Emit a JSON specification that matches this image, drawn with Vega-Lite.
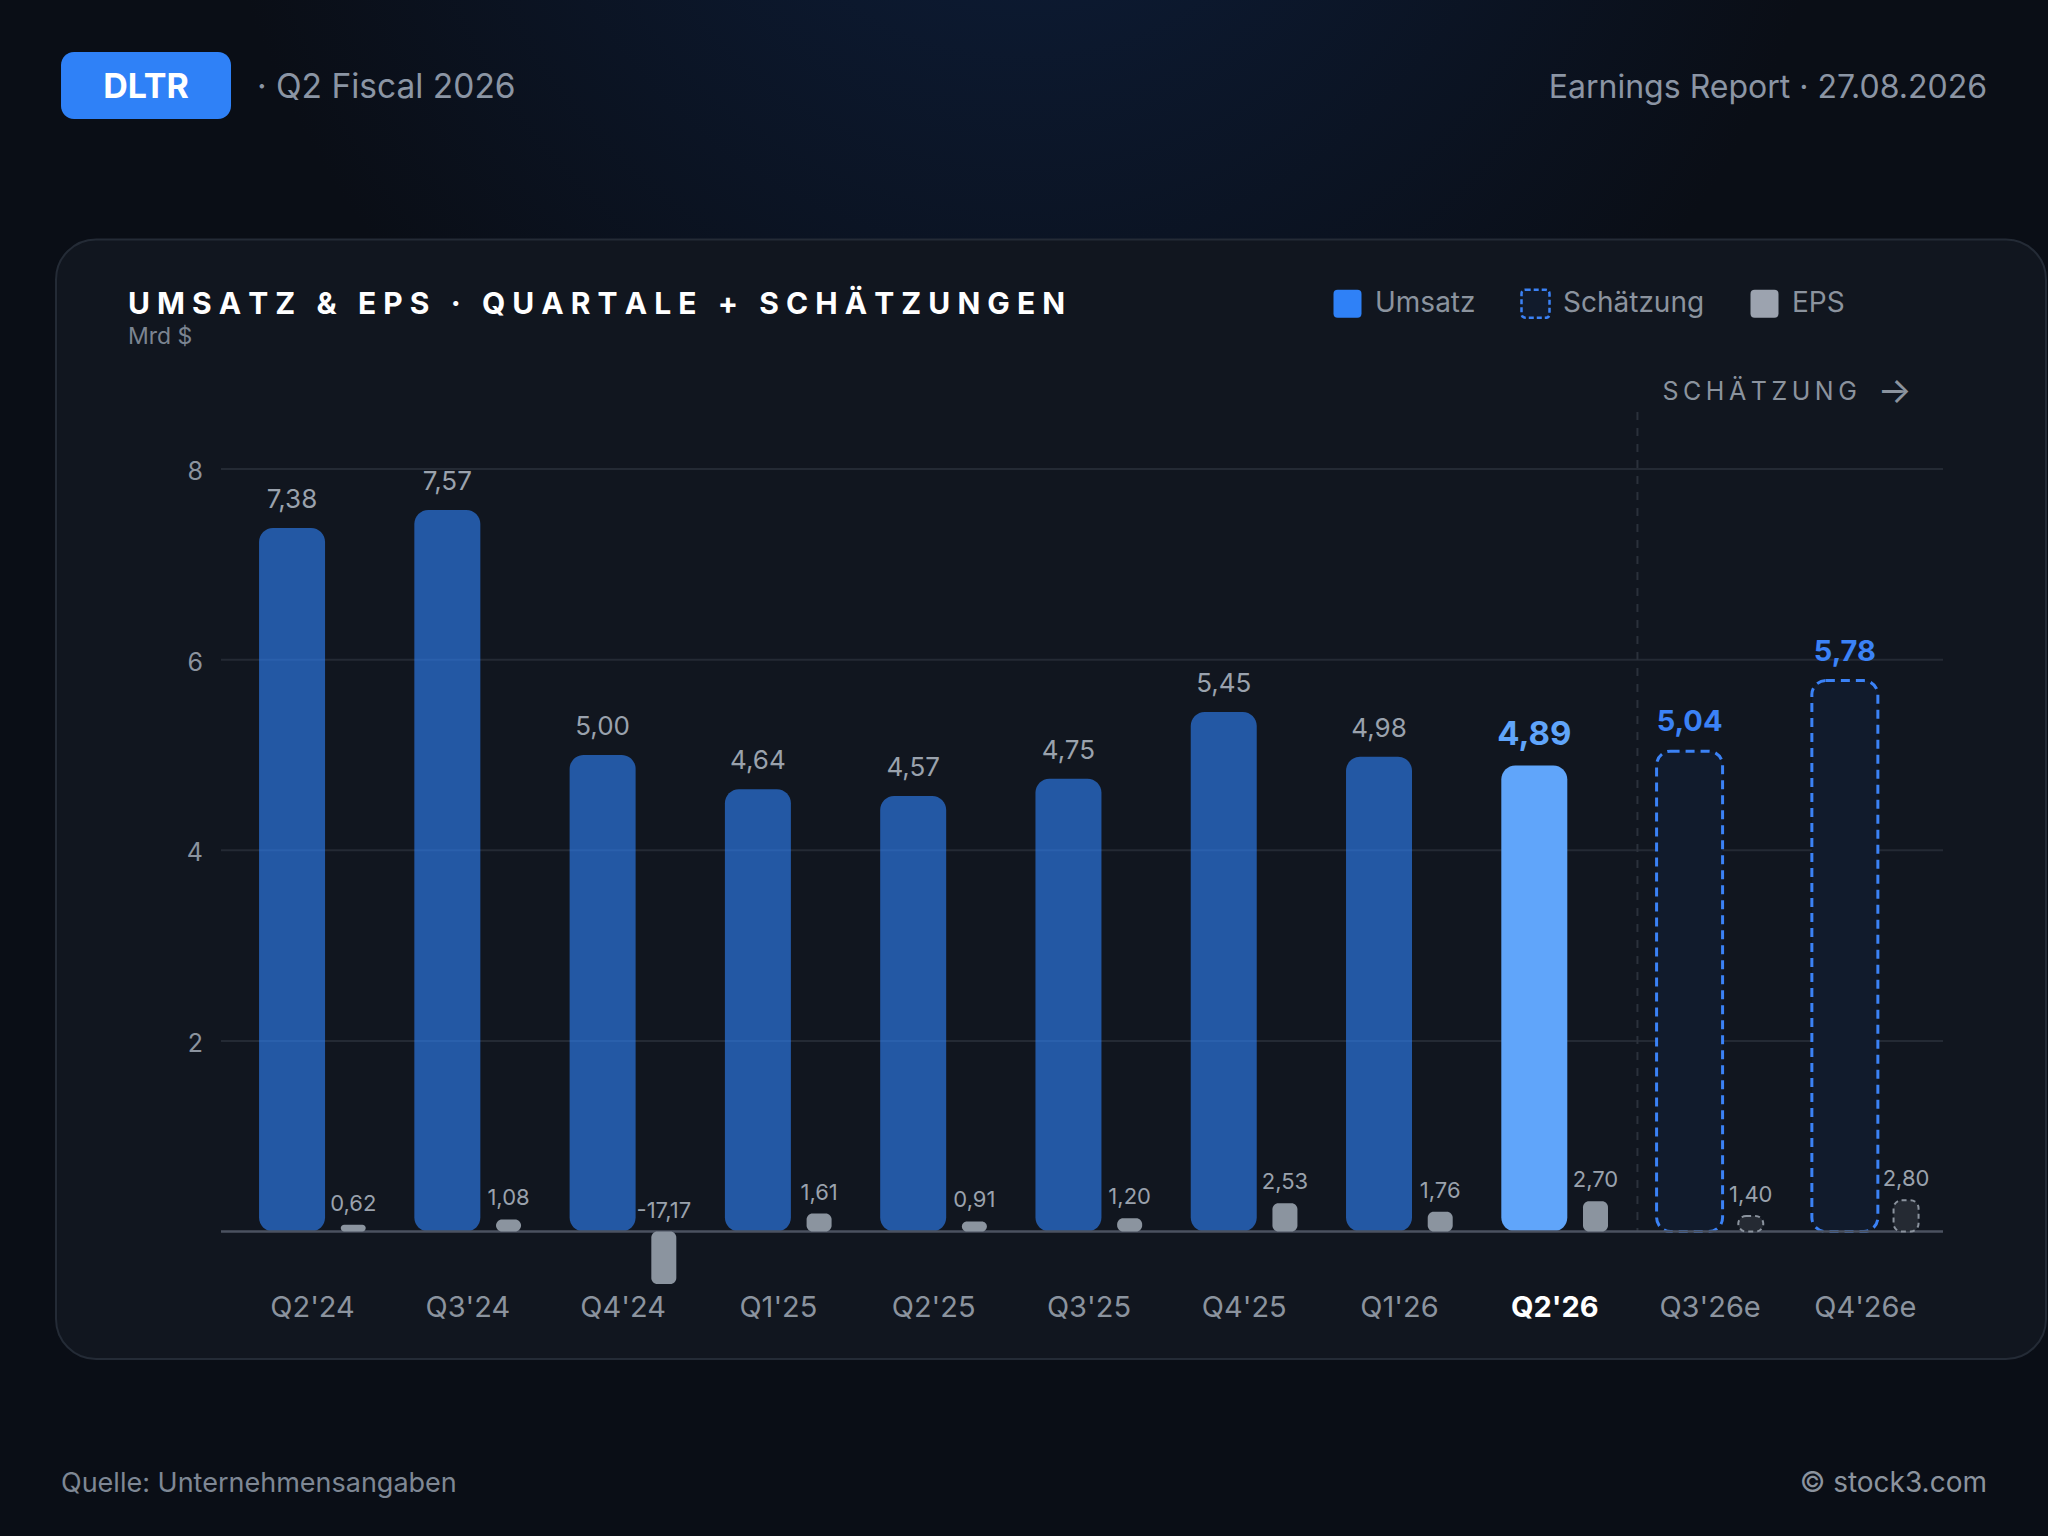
{
  "$schema": "https://vega.github.io/schema/vega-lite/v6.json",
  "width": 1722,
  "height": 815,
  "autosize": {"type": "none"},
  "padding": {"left": 221, "top": 469, "right": 105, "bottom": 252},
  "background": "#0a0e16",
  "config": {
    "font": "Inter",
    "view": {"stroke": null},
    "locale": {
      "number": {"decimal": ",", "thousands": ".", "grouping": [3], "currency": ["", " $"], "minus": "-"}
    }
  },
  "data": {
    "values": [
      {"q": "Q2'24", "rev": 7.38, "eps": 0.62, "typ": "Umsatz"},
      {"q": "Q3'24", "rev": 7.57, "eps": 1.08, "typ": "Umsatz"},
      {"q": "Q4'24", "rev": 5.0, "eps": -17.17, "typ": "Umsatz"},
      {"q": "Q1'25", "rev": 4.64, "eps": 1.61, "typ": "Umsatz"},
      {"q": "Q2'25", "rev": 4.57, "eps": 0.91, "typ": "Umsatz"},
      {"q": "Q3'25", "rev": 4.75, "eps": 1.2, "typ": "Umsatz"},
      {"q": "Q4'25", "rev": 5.45, "eps": 2.53, "typ": "Umsatz"},
      {"q": "Q1'26", "rev": 4.98, "eps": 1.76, "typ": "Umsatz"},
      {"q": "Q2'26", "rev": 4.89, "eps": 2.7, "typ": "Umsatz"},
      {"q": "Q3'26e", "rev": 5.04, "eps": 1.4, "typ": "Schätzung"},
      {"q": "Q4'26e", "rev": 5.78, "eps": 2.8, "typ": "Schätzung"}
    ]
  },
  "resolve": {"scale": {"y": "independent"}},
  "layer": [
    {
      "layer": [
        {
          "data": {"values": [{}]},
          "mark": {
            "type": "rect",
            "xOffset": -234.9,
            "x2Offset": 105,
            "color": {
              "gradient": "radial",
              "x1": 0.5, "y1": 0, "r1": 0,
              "x2": 0.5, "y2": 0, "r2": 0.4,
              "stops": [
                {"offset": 0, "color": "#0d1e3b"},
                {"offset": 1, "color": "#0a0e16"}
              ]
            }
          },
          "encoding": {
            "x": {
              "datum": "Q2'24", "type": "nominal", "bandPosition": 0, "axis": null,
              "scale": {
                "domain": ["Q2'24", "Q3'24", "Q4'24", "Q1'25", "Q2'25", "Q3'25", "Q4'25", "Q1'26", "Q2'26", "Q3'26e", "Q4'26e"],
                "paddingInner": 0, "paddingOuter": 0.0448, "align": 1
              }
            },
            "x2": {"datum": "Q4'26e", "bandPosition": 1},
            "y": {"datum": 12.92, "type": "quantitative", "axis": null,
                  "scale": {"domain": [-0.55, 8], "nice": false, "zero": false}},
            "y2": {"datum": -3.194}
          }
        },
        {
          "data": {"values": [{}]},
          "mark": {
            "type": "rect",
            "xOffset": -178.9,
            "x2Offset": 103,
            "fill": "#11161f",
            "stroke": "#242b36",
            "strokeWidth": 2,
            "cornerRadius": 40
          },
          "encoding": {
            "x": {"datum": "Q2'24", "type": "nominal", "bandPosition": 0, "axis": null},
            "x2": {"datum": "Q4'26e", "bandPosition": 1},
            "y": {"datum": 10.408, "type": "quantitative", "axis": null},
            "y2": {"datum": -1.337}
          }
        },
        {
          "data": {"values": [{"g": 2}, {"g": 4}, {"g": 6}, {"g": 8}]},
          "layer": [
            {
              "mark": {"type": "rule", "color": "#242a34", "strokeWidth": 2},
              "encoding": {
                "y": {"field": "g", "type": "quantitative", "axis": null}
              }
            },
            {
              "mark": {"type": "text", "align": "right", "baseline": "middle", "dx": -31.9, "dy": 3, "fontSize": 25, "color": "#8b939e"},
              "encoding": {
                "x": {"datum": "Q2'24", "type": "nominal", "bandPosition": 0, "axis": null},
                "y": {"field": "g", "type": "quantitative", "axis": null},
                "text": {"field": "g", "type": "quantitative", "format": "d"}
              }
            }
          ]
        },
        {
          "data": {"values": [{}]},
          "mark": {"type": "rule", "color": "#2b313b", "strokeWidth": 2, "strokeDash": [8, 8], "xOffset": 5},
          "encoding": {
            "x": {"datum": "Q3'26e", "type": "nominal", "bandPosition": 0, "axis": null},
            "y": {"datum": 8.598, "type": "quantitative", "axis": null},
            "y2": {"datum": 0}
          }
        },
        {
          "transform": [{"filter": "datum.typ === 'Umsatz'"}],
          "mark": {"type": "bar", "width": 66, "xOffset": -20.5, "cornerRadius": 14},
          "encoding": {
            "x": {"field": "q", "type": "nominal", "axis": null},
            "y": {"field": "rev", "type": "quantitative", "axis": null},
            "y2": {"datum": 0},
            "color": {
              "condition": {"test": "datum.q === \"Q2'26\"", "value": "#60a5fa"},
              "field": "typ", "type": "nominal",
              "scale": {"domain": ["Umsatz", "Schätzung", "EPS"], "range": ["#2f81f7", "#111b2c", "#9ca3af"]},
              "legend": {
                "title": null, "orient": "none", "legendX": 1111, "legendY": -181,
                "direction": "horizontal", "padding": 0, "zindex": 1,
                "symbolType": "M-0.7,-1L0.7,-1Q1,-1,1,-0.7L1,0.7Q1,1,0.7,1L-0.7,1Q-1,1,-1,0.7L-1,-0.7Q-1,-1,-0.7,-1Z",
                "symbolSize": 784, "symbolOpacity": 1, "symbolStrokeWidth": 2.5,
                "labelFontSize": 28, "labelColor": "#8b939e", "labelFont": "Inter",
                "labelOffset": 12, "columnPadding": 40,
                "encode": {
                  "symbols": {
                    "update": {
                      "stroke": {"signal": "datum.value === 'Schätzung' ? '#3b82f6' : 'transparent'"},
                      "strokeDash": {"signal": "datum.value === 'Schätzung' ? [5, 3] : [1, 0]"}
                    }
                  }
                }
              }
            },
            "opacity": {"condition": {"test": "datum.q === \"Q2'26\"", "value": 1}, "value": 0.62}
          }
        },
        {
          "transform": [{"filter": "datum.typ === 'Schätzung'"}],
          "mark": {
            "type": "bar", "width": 66, "xOffset": -20.5, "cornerRadius": 14,
            "fill": "#111b2c", "stroke": "#3b82f6", "strokeWidth": 3, "strokeDash": [9, 6]
          },
          "encoding": {
            "x": {"field": "q", "type": "nominal", "axis": null},
            "y": {"field": "rev", "type": "quantitative", "axis": null},
            "y2": {"datum": 0}
          }
        },
        {
          "data": {"values": [{}]},
          "mark": {"type": "rule", "color": "#4b5260", "strokeWidth": 2.5},
          "encoding": {
            "y": {"datum": 0, "type": "quantitative", "axis": null}
          }
        },
        {
          "transform": [{"filter": "datum.q !== \"Q2'26\""}],
          "mark": {"type": "text", "align": "center", "baseline": "middle", "fontSize": 29, "color": "#8b939e"},
          "encoding": {
            "x": {"field": "q", "type": "nominal", "axis": null},
            "y": {"datum": -0.798, "type": "quantitative", "axis": null},
            "text": {"field": "q", "type": "nominal"}
          }
        },
        {
          "transform": [{"filter": "datum.q === \"Q2'26\""}],
          "mark": {"type": "text", "align": "center", "baseline": "middle", "fontSize": 29, "fontWeight": "bold", "color": "#ffffff"},
          "encoding": {
            "x": {"field": "q", "type": "nominal", "axis": null},
            "y": {"datum": -0.798, "type": "quantitative", "axis": null},
            "text": {"field": "q", "type": "nominal"}
          }
        },
        {
          "transform": [{"filter": "datum.typ === 'Umsatz' && datum.q !== \"Q2'26\""}],
          "mark": {"type": "text", "dx": -20.5, "dy": -20, "baseline": "alphabetic", "fontSize": 26, "color": "#9aa2ad"},
          "encoding": {
            "x": {"field": "q", "type": "nominal", "axis": null},
            "y": {"field": "rev", "type": "quantitative", "axis": null},
            "text": {"field": "rev", "type": "quantitative", "format": ".2f"}
          }
        },
        {
          "transform": [{"filter": "datum.q === \"Q2'26\""}],
          "mark": {"type": "text", "dx": -20.5, "dy": -20, "baseline": "alphabetic", "fontSize": 33, "fontWeight": "bold", "color": "#60a5fa"},
          "encoding": {
            "x": {"field": "q", "type": "nominal", "axis": null},
            "y": {"field": "rev", "type": "quantitative", "axis": null},
            "text": {"field": "rev", "type": "quantitative", "format": ".2f"}
          }
        },
        {
          "transform": [{"filter": "datum.typ === 'Schätzung'"}],
          "mark": {"type": "text", "dx": -20.5, "dy": -20, "baseline": "alphabetic", "fontSize": 29, "fontWeight": "bold", "color": "#3b82f6"},
          "encoding": {
            "x": {"field": "q", "type": "nominal", "axis": null},
            "y": {"field": "rev", "type": "quantitative", "axis": null},
            "text": {"field": "rev", "type": "quantitative", "format": ".2f"}
          }
        },
        {
          "data": {"values": [{}]},
          "mark": {"type": "rect", "xOffset": -173.9, "x2Offset": -3.9, "fill": "#2f81f7", "cornerRadius": 13},
          "encoding": {
            "x": {"datum": "Q2'24", "type": "nominal", "bandPosition": 0, "axis": null},
            "x2": {"datum": "Q2'24", "bandPosition": 0},
            "y": {"datum": 12.375, "type": "quantitative", "axis": null},
            "y2": {"datum": 11.672}
          }
        },
        {
          "data": {"values": [{}]},
          "mark": {"type": "text", "text": "DLTR", "align": "center", "baseline": "middle", "dx": -88.9, "fontSize": 34, "fontWeight": "bold", "color": "#ffffff"},
          "encoding": {
            "x": {"datum": "Q2'24", "type": "nominal", "bandPosition": 0, "axis": null},
            "y": {"datum": 12.0, "type": "quantitative", "axis": null}
          }
        },
        {
          "data": {"values": [{}]},
          "mark": {"type": "text", "text": "· Q2 Fiscal 2026", "align": "left", "baseline": "middle", "dx": 22, "fontSize": 33.5, "color": "#8b95a4"},
          "encoding": {
            "x": {"datum": "Q2'24", "type": "nominal", "bandPosition": 0, "axis": null},
            "y": {"datum": 12.0, "type": "quantitative", "axis": null}
          }
        },
        {
          "data": {"values": [{}]},
          "mark": {"type": "text", "text": "Earnings Report · 27.08.2026", "align": "right", "baseline": "middle", "dx": 44, "fontSize": 32, "color": "#8b95a4"},
          "encoding": {
            "x": {"datum": "Q4'26e", "type": "nominal", "bandPosition": 1, "axis": null},
            "y": {"datum": 12.0, "type": "quantitative", "axis": null}
          }
        },
        {
          "data": {"values": [{}]},
          "mark": {"type": "text", "text": "U\u2009\u200aM\u2009\u200aS\u2009\u200aA\u2009\u200aT\u2009\u200aZ\u2009\u200a \u2009\u200a&\u2009\u200a \u2009\u200aE\u2009\u200aP\u2009\u200aS\u2009\u200a \u2009\u200a·\u2009\u200a \u2009\u200aQ\u2009\u200aU\u2009\u200aA\u2009\u200aR\u2009\u200aT\u2009\u200aA\u2009\u200aL\u2009\u200aE\u2009\u200a \u2009\u200a+\u2009\u200a \u2009\u200aS\u2009\u200aC\u2009\u200aH\u2009\u200aÄ\u2009\u200aT\u2009\u200aZ\u2009\u200aU\u2009\u200aN\u2009\u200aG\u2009\u200aE\u2009\u200aN", "align": "left", "baseline": "middle", "dx": -106.9, "fontSize": 30, "fontWeight": "bold", "color": "#ffffff"},
          "encoding": {
            "x": {"datum": "Q2'24", "type": "nominal", "bandPosition": 0, "axis": null},
            "y": {"datum": 9.72, "type": "quantitative", "axis": null}
          }
        },
        {
          "data": {"values": [{}]},
          "mark": {"type": "text", "text": "Mrd $", "align": "left", "baseline": "middle", "dx": -106.9, "fontSize": 23, "color": "#7b8491"},
          "encoding": {
            "x": {"datum": "Q2'24", "type": "nominal", "bandPosition": 0, "axis": null},
            "y": {"datum": 9.39, "type": "quantitative", "axis": null}
          }
        },
        {
          "data": {"values": [{}]},
          "mark": {"type": "text", "text": "S\u2009C\u2009H\u2009Ä\u2009T\u2009Z\u2009U\u2009N\u2009G", "align": "left", "baseline": "middle", "dx": 30, "fontSize": 25, "color": "#8b939e"},
          "encoding": {
            "x": {"datum": "Q3'26e", "type": "nominal", "bandPosition": 0, "axis": null},
            "y": {"datum": 8.81, "type": "quantitative", "axis": null}
          }
        },
        {
          "data": {"values": [{}]},
          "mark": {"type": "text", "text": "→", "align": "left", "baseline": "middle", "dx": 245, "fontSize": 36, "color": "#8b939e"},
          "encoding": {
            "x": {"datum": "Q3'26e", "type": "nominal", "bandPosition": 0, "axis": null},
            "y": {"datum": 8.81, "type": "quantitative", "axis": null}
          }
        },
        {
          "data": {"values": [{}]},
          "mark": {"type": "text", "text": "Quelle: Unternehmensangaben", "align": "left", "baseline": "middle", "dx": -173.9, "fontSize": 27, "color": "#7e8794"},
          "encoding": {
            "x": {"datum": "Q2'24", "type": "nominal", "bandPosition": 0, "axis": null},
            "y": {"datum": -2.65, "type": "quantitative", "axis": null}
          }
        },
        {
          "data": {"values": [{}]},
          "mark": {"type": "text", "text": "© stock3.com", "align": "right", "baseline": "middle", "dx": 44, "fontSize": 28, "color": "#8b939e"},
          "encoding": {
            "x": {"datum": "Q4'26e", "type": "nominal", "bandPosition": 1, "axis": null},
            "y": {"datum": -2.65, "type": "quantitative", "axis": null}
          }
        }
      ]
    },
    {
      "layer": [
        {
          "transform": [{"filter": "datum.typ === 'Umsatz'"}],
          "mark": {"type": "bar", "width": 25, "xOffset": 40.7, "cornerRadius": 6, "fill": "#8b949f"},
          "encoding": {
            "x": {"field": "q", "type": "nominal", "axis": null},
            "y": {"field": "eps", "type": "quantitative", "axis": null,
                  "scale": {"domain": [-4.68, 68.09], "nice": false, "zero": false, "clamp": true}},
            "y2": {"datum": 0}
          }
        },
        {
          "transform": [{"filter": "datum.typ === 'Schätzung'"}],
          "mark": {"type": "bar", "width": 25, "xOffset": 40.7, "cornerRadius": 8, "fill": "#252a33", "stroke": "#8b939e", "strokeWidth": 2, "strokeDash": [5, 4]},
          "encoding": {
            "x": {"field": "q", "type": "nominal", "axis": null},
            "y": {"field": "eps", "type": "quantitative", "axis": null},
            "y2": {"datum": 0}
          }
        },
        {
          "transform": [{"filter": "datum.eps >= 0"}],
          "mark": {"type": "text", "dx": 40.7, "dy": -14, "baseline": "alphabetic", "fontSize": 22, "color": "#9aa2ad"},
          "encoding": {
            "x": {"field": "q", "type": "nominal", "axis": null},
            "y": {"field": "eps", "type": "quantitative", "axis": null},
            "text": {"field": "eps", "type": "quantitative", "format": ".2f"}
          }
        },
        {
          "transform": [{"filter": "datum.eps < 0"}],
          "mark": {"type": "text", "dx": 40.7, "dy": -14, "baseline": "alphabetic", "fontSize": 22, "color": "#9aa2ad"},
          "encoding": {
            "x": {"field": "q", "type": "nominal", "axis": null},
            "y": {"datum": 0, "type": "quantitative", "axis": null},
            "text": {"field": "eps", "type": "quantitative", "format": ".2f"}
          }
        }
      ]
    }
  ]
}
